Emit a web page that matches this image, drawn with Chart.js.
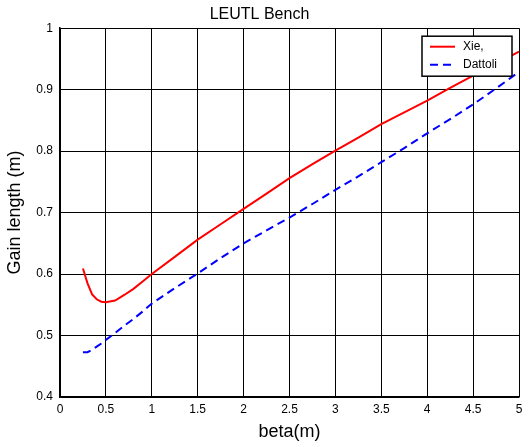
<!DOCTYPE html>
<html>
<head>
<meta charset="utf-8">
<script src="https://cdn.jsdelivr.net/npm/chart.js@4/dist/chart.umd.min.js"></script>
<style>
html,body{margin:0;padding:0;background:#fff;}
#wrap{width:531px;height:447px;position:relative;}
</style>
</head>
<body>
<div id="wrap"><canvas id="c" width="531" height="447"></canvas></div>
<script>
const chartTitle = 'LEUTL Bench';
const xTitle = 'beta(m)';
const yTitle = 'Gain length (m)';
const beta = [0.25,0.3,0.35,0.4,0.45,0.5,0.6,0.7,0.8,0.9,1.0,1.25,1.5,1.75,2.0,2.25,2.5,2.75,3.0,3.25,3.5,3.75,4.0,4.25,4.5,4.75,5.0];
const xieValues = [0.609,0.585,0.567,0.559,0.555,0.554,0.557,0.566,0.576,0.588,0.600,0.628,0.656,0.681,0.706,0.731,0.756,0.779,0.801,0.822,0.844,0.863,0.882,0.903,0.923,0.942,0.962];
const dattoliValues = [0.473,0.473,0.477,0.482,0.487,0.493,0.504,0.516,0.527,0.539,0.552,0.577,0.601,0.626,0.650,0.671,0.692,0.714,0.737,0.759,0.782,0.805,0.829,0.852,0.876,0.902,0.929];
const seriesNames = ['Xie,', 'Dattoli'];
const xTickLabels = ['0','0.5','1','1.5','2','2.5','3','3.5','4','4.5','5'];
const yTickLabels = ['0.4','0.5','0.6','0.7','0.8','0.9','1'];

const FONT = '"Liberation Sans", Arial, Helvetica, sans-serif';
Chart.defaults.font.family = FONT;
Chart.defaults.color = '#000';

const toPoints = (xs, ys) => xs.map((x, i) => ({x: x, y: ys[i]}));

const legendBox = {
  id: 'legendBox',
  afterDatasetsDraw(chart) {
    const ctx = chart.ctx;
    const a = chart.chartArea;
    const w = 90, h = 40;
    const x = a.right - 97, y = a.top + 8;
    ctx.save();
    ctx.fillStyle = '#fff';
    ctx.fillRect(x, y, w, h);
    ctx.strokeStyle = '#000';
    ctx.lineWidth = 1.5;
    ctx.strokeRect(x, y, w, h);
    chart.data.datasets.forEach((ds, i) => {
      const ry = y + 10.5 + i * 18;
      ctx.beginPath();
      ctx.strokeStyle = ds.borderColor;
      ctx.lineWidth = ds.borderWidth;
      ctx.setLineDash(ds.borderDash || []);
      ctx.moveTo(x + 8, ry);
      ctx.lineTo(x + 33, ry);
      ctx.stroke();
      ctx.setLineDash([]);
      ctx.fillStyle = '#000';
      ctx.font = '12px ' + FONT;
      ctx.textBaseline = 'middle';
      ctx.textAlign = 'left';
      ctx.fillText(ds.label, x + 41, ry);
    });
    ctx.restore();
  }
};

new Chart(document.getElementById('c'), {
  type: 'line',
  data: {
    datasets: [
      {label: seriesNames[0], data: toPoints(beta, xieValues), borderColor: '#ff0000', borderWidth: 2, pointRadius: 0, fill: false, tension: 0},
      {label: seriesNames[1], data: toPoints(beta, dattoliValues), borderColor: '#0000ff', borderWidth: 2, borderDash: [8,5], pointRadius: 0, fill: false, tension: 0}
    ]
  },
  options: {
    responsive: false,
    animation: false,
    layout: {padding: {left: 0, right: 12, top: 0, bottom: 0}},
    plugins: {
      legend: {display: false},
      tooltip: {enabled: false},
      title: {display: true, text: chartTitle, color: '#000', font: {size: 16, weight: 'normal', family: FONT}, padding: {top: 5, bottom: 4}}
    },
    scales: {
      x: {
        type: 'linear', min: 0, max: 5,
        ticks: {stepSize: 0.5, padding: 5, font: {size: 12}, color: '#000', maxRotation: 0, autoSkip: false,
          callback: (v, i) => xTickLabels[i]},
        grid: {color: '#000', lineWidth: 1, drawTicks: false},
        border: {color: '#000', width: 1.5},
        title: {display: true, text: xTitle, font: {size: 18}, color: '#000', padding: {top: 4, bottom: 4}},
        afterFit: s => { s.height = 50; }
      },
      y: {
        type: 'linear', min: 0.4, max: 1,
        ticks: {stepSize: 0.1, padding: 7, font: {size: 12}, color: '#000', autoSkip: false,
          callback: (v, i) => yTickLabels[i]},
        grid: {color: '#000', lineWidth: 1, drawTicks: false},
        border: {color: '#000', width: 1.5},
        title: {display: true, text: yTitle, font: {size: 18}, color: '#000', padding: {top: 4, bottom: 4}},
        afterFit: s => { s.width = 60; }
      }
    }
  },
  plugins: [legendBox]
});
</script>
</body>
</html>
